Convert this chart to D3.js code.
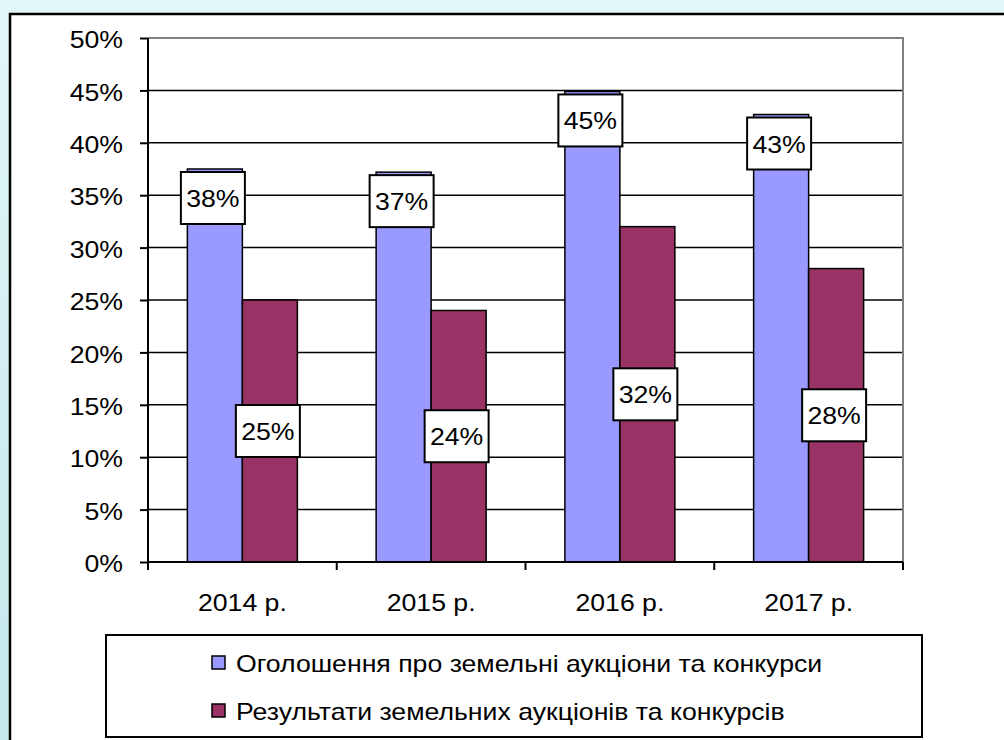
<!DOCTYPE html>
<html>
<head>
<meta charset="utf-8">
<script src="https://d3js.org/d3.v7.min.js"></script>
<style>
  body { margin: 0; padding: 0; overflow: hidden; }
  text { font-family: "Liberation Sans", Arial, sans-serif; fill: #000; }
</style>
</head>
<body>
<svg id="canvas"></svg>
<script>
var w = 1004
var h = 740

// ########## Data ##########
var years = ["2014 р.", "2015 р.", "2016 р.", "2017 р."];
var seriesNames = ["Оголошення про земельні аукціони та конкурси", "Результати земельних аукціонів та конкурсів"];
var announcements = [37.5, 37.2, 44.9, 42.7];
var results = [25, 24, 32, 28];
var yTicks = [0, 5, 10, 15, 20, 25, 30, 35, 40, 45, 50];
var colors = ["#9999ff", "#993366"];

// ########## SVG ##########
var svg = d3.select("#canvas")
    .attr("width", w)
    .attr("height", h);

var defs = svg.append("defs");
var grad = defs.append("linearGradient")
    .attr("id", "bg")
    .attr("x1", 0).attr("y1", 0).attr("x2", 0).attr("y2", 1);
grad.append("stop").attr("offset", "0%").attr("stop-color", "#e2f7f8");
grad.append("stop").attr("offset", "100%").attr("stop-color", "#c4e7ec");

svg.append("rect")
    .attr("width", w).attr("height", h)
    .attr("fill", "url(#bg)");

// white panel
svg.append("rect")
    .attr("x", 10).attr("y", 14)
    .attr("width", w + 20).attr("height", h)
    .attr("fill", "#fff")
    .attr("stroke", "#000")
    .attr("stroke-width", 2.5);

// ########## Scales ##########
var x0 = d3.scaleBand()
    .domain(years)
    .range([148, 903]);

var x1 = d3.scaleBand()
    .domain([0, 1])
    .range([0, x0.bandwidth()])
    .paddingOuter(0.716);

var y = d3.scaleLinear()
    .domain([0, 50])
    .range([562, 38]);

// ########## Grid ##########
svg.append("g")
    .selectAll("line")
    .data(yTicks.filter(function (d) { return d > 0 && d < 50; }))
    .enter().append("line")
    .attr("x1", 148).attr("x2", 903)
    .attr("y1", function (d) { return y(d); })
    .attr("y2", function (d) { return y(d); })
    .attr("stroke", "#000")
    .attr("stroke-width", 1.5);

// plot area border (top + right) in gray
svg.append("path")
    .attr("d", "M148," + y(50) + "H903V" + y(0))
    .attr("fill", "none")
    .attr("stroke", "#808080")
    .attr("stroke-width", 2);

// ########## Bars ##########
var table = years.map(function (yr, i) {
    return { year: yr, values: [announcements[i], results[i]] };
});

var groups = svg.selectAll(".grp")
    .data(table).enter()
    .append("g")
    .attr("class", "grp")
    .attr("transform", function (d) { return "translate(" + x0(d.year) + ",0)"; });

groups.selectAll("rect")
    .data(function (d) { return d.values.map(function (v, k) { return { k: k, v: v }; }); })
    .enter().append("rect")
    .attr("x", function (d) { return x1(d.k); })
    .attr("width", x1.bandwidth())
    .attr("y", function (d) { return y(d.v); })
    .attr("height", function (d) { return y(0) - y(d.v); })
    .attr("fill", function (d) { return colors[d.k]; })
    .attr("stroke", "#000")
    .attr("stroke-width", 1.5);

// ########## Axes ##########
var yAxis = d3.axisLeft(y)
    .tickValues(yTicks)
    .tickSize(8)
    .tickPadding(17)
    .tickFormat(function (d) { return d + "%"; });

var gy = svg.append("g")
    .attr("transform", "translate(148,0)")
    .call(yAxis);
gy.select(".domain").attr("stroke", "#000").attr("stroke-width", 2).attr("d", "M0," + y(0) + "V" + y(50));
gy.selectAll(".tick line").attr("stroke", "#000").attr("stroke-width", 2);
gy.selectAll(".tick text")
    .style("font-family", "'Liberation Sans', Arial, sans-serif")
    .style("font-size", "24px")
    .attr("dy", "0.4em")
    .attr("fill", "#000");

var xAxis = d3.axisBottom(x0)
    .tickSize(0)
    .tickPadding(49);

var gx = svg.append("g")
    .attr("transform", "translate(0," + y(0) + ")")
    .call(xAxis);
gx.select(".domain").attr("stroke", "#000").attr("stroke-width", 2).attr("d", "M148,0H903");
gx.selectAll(".tick text")
    .style("font-family", "'Liberation Sans', Arial, sans-serif")
    .style("font-size", "24px")
    .attr("dy", "0")
    .attr("fill", "#000");

// category boundary ticks
gx.selectAll(".bound")
    .data(years.concat(["end"]))
    .enter().append("line")
    .attr("x1", function (d, i) { return i < years.length ? x0(d) : x0.range()[1]; })
    .attr("x2", function (d, i) { return i < years.length ? x0(d) : x0.range()[1]; })
    .attr("y1", 0).attr("y2", 8)
    .attr("stroke", "#000")
    .attr("stroke-width", 2);

// ########## Data labels ##########
var labels = [];
table.forEach(function (d) {
    d.values.forEach(function (v, k) {
        var cx = x0(d.year) + x1(k) + x1.bandwidth() / 2 - 2;
        var cy = k === 0 ? y(v) + 29 : (y(v) + y(0)) / 2;
        labels.push({ cx: cx, cy: cy, text: Math.round(v) + "%" });
    });
});

var lab = svg.selectAll(".lab")
    .data(labels).enter()
    .append("g")
    .attr("class", "lab")
    .attr("transform", function (d) { return "translate(" + d.cx + "," + d.cy + ")"; });

lab.append("rect")
    .attr("x", -32).attr("y", -26)
    .attr("width", 64).attr("height", 52)
    .attr("fill", "#fff")
    .attr("stroke", "#000")
    .attr("stroke-width", 2);

lab.append("text")
    .attr("text-anchor", "middle")
    .attr("y", 9)
    .style("font-size", "24px")
    .text(function (d) { return d.text; });

// ########## Legend ##########
var legend = svg.append("g");
legend.append("rect")
    .attr("x", 106).attr("y", 635)
    .attr("width", 816).attr("height", 102)
    .attr("fill", "#fff")
    .attr("stroke", "#000")
    .attr("stroke-width", 2);

var item = legend.selectAll(".item")
    .data(seriesNames).enter()
    .append("g")
    .attr("class", "item")
    .attr("transform", function (d, i) { return "translate(212," + (663 + i * 48) + ")"; });

item.append("rect")
    .attr("x", 0).attr("y", -7)
    .attr("width", 13).attr("height", 13)
    .attr("fill", function (d, i) { return colors[i]; })
    .attr("stroke", "#000")
    .attr("stroke-width", 1.5);

item.append("text")
    .attr("x", 24)
    .attr("y", 9)
    .style("font-size", "24px")
    .text(function (d) { return d; });

// ########## Wider glyphs, as in the original ##########
svg.selectAll("text").each(function () {
    var len = this.getComputedTextLength();
    d3.select(this)
        .attr("textLength", len * 1.11)
        .attr("lengthAdjust", "spacingAndGlyphs");
});
</script>
</body>
</html>
